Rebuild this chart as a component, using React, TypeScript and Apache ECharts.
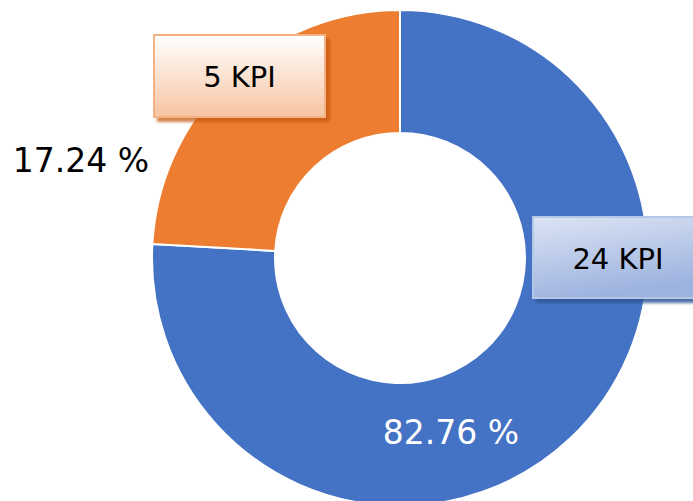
import React, { useEffect, useRef } from "react";
import * as echarts from "echarts";

const categories = ["24 KPI", "5 KPI"];
const kpiCounts = [24, 5];
const percentLabels = ["82.76 %", "17.24 %"];
// slice sizes as drawn in the picture (share of the ring, %)
const sliceShares = [75.9, 24.1];
const sliceColors = ["#4472C4", "#ED7D31"];

export default function App() {
  const ref = useRef<HTMLDivElement>(null);
  useEffect(() => {
    if (!ref.current) return;
    const chart = echarts.init(ref.current, null, { renderer: "svg" });
    const font = "DejaVu Sans";
    const pctPos = [
      { x: 451, y: 432, color: "#ffffff" },
      { x: 81, y: 160, color: "#000000" },
    ];
    const boxes = [
      {
        x: 533, y: 217, w: 162, h: 81, tx: 85,
        fill: new echarts.graphic.LinearGradient(0, 0, 0.3, 1, [
          { offset: 0, color: "#DCE4F4" },
          { offset: 1, color: "#9DB3DF" },
        ]),
        stroke: "#B4C7E7",
        shadow: "rgba(47,85,151,0.85)",
      },
      {
        x: 154, y: 35, w: 171, h: 82, tx: 85.5,
        fill: new echarts.graphic.LinearGradient(0, 0, 0, 1, [
          { offset: 0, color: "#FFFFFF" },
          { offset: 1, color: "#F7C4A2" },
        ]),
        stroke: "#F4B183",
        shadow: "rgba(197,90,17,0.75)",
      },
    ];
    chart.setOption({
      animation: false,
      backgroundColor: "#ffffff",
      series: [
        {
          type: "pie",
          center: [400, 258],
          radius: [125, 248],
          startAngle: 90,
          clockwise: true,
          avoidLabelOverlap: false,
          itemStyle: { borderColor: "#ffffff", borderWidth: 2 },
          data: sliceShares.map((v, i) => ({
            value: v,
            name: categories[i],
            itemStyle: { color: sliceColors[i] },
            label: { color: pctPos[i].color },
          })),
          label: {
            show: true,
            position: "inside",
            formatter: (p: any) => percentLabels[p.dataIndex],
            fontFamily: font,
            fontSize: 33,
          },
          labelLine: { show: false },
          labelLayout: (p: any) => ({
            x: pctPos[p.dataIndex].x,
            y: pctPos[p.dataIndex].y,
            align: "center",
            verticalAlign: "middle",
          }),
          emphasis: { disabled: true },
        },
      ],
      graphic: boxes.map((b, i) => ({
        type: "group",
        x: b.x,
        y: b.y,
        z: 100,
        children: [
          {
            type: "rect",
            z: 100,
            shape: { x: 0, y: 0, width: b.w, height: b.h },
            style: {
              fill: b.fill,
              stroke: b.stroke,
              lineWidth: 2,
              shadowColor: b.shadow,
              shadowBlur: 3,
              shadowOffsetX: 4,
              shadowOffsetY: 4,
            },
          },
          {
            type: "text",
            z: 101,
            x: b.tx,
            y: b.h / 2 + 1,
            style: {
              text: `${kpiCounts[i]} KPI`,
              fill: "#000000",
              font: `29px '${font}'`,
              align: "center",
              verticalAlign: "middle",
            },
          },
        ],
      })),
    });
    return () => chart.dispose();
  }, []);
  return (
    <div
      ref={ref}
      style={{ position: "fixed", left: 0, top: 0, width: 693, height: 501 }}
    />
  );
}
